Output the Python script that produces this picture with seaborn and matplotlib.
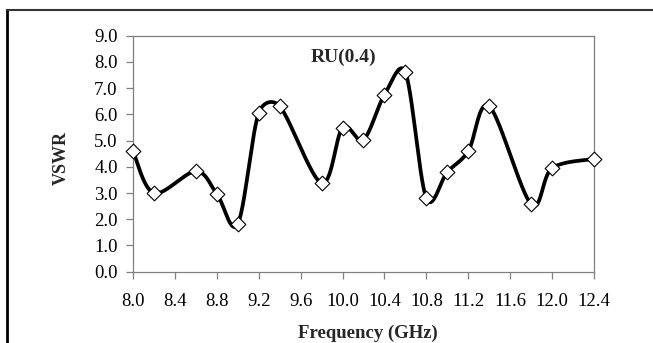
import numpy as np
import pandas as pd
import seaborn as sns
import matplotlib
matplotlib.use("Agg")
import matplotlib.pyplot as plt
from matplotlib.lines import Line2D

# Measured VSWR of the RU(0.4) element
freq_ghz = [8.0, 8.2, 8.6, 8.8, 9.0, 9.2, 9.4, 9.8, 10.0, 10.2, 10.4,
            10.6, 10.8, 11.0, 11.2, 11.4, 11.8, 12.0, 12.4]
vswr = [4.6, 3.0, 3.83, 2.97, 1.82, 6.06, 6.31, 3.38, 5.49, 5.04, 6.75,
        7.6, 2.8, 3.8, 4.6, 6.31, 2.58, 3.95, 4.3]
x_ticks = [8.0, 8.4, 8.8, 9.2, 9.6, 10.0, 10.4, 10.8, 11.2, 11.6, 12.0, 12.4]
y_ticks = [0, 1, 2, 3, 4, 5, 6, 7, 8, 9]
series_label = "RU(0.4)"

sns.set_theme(style="white")
plt.rcParams["font.family"] = ["Liberation Serif", "DejaVu Serif"]

W, H = 653, 343
fig = plt.figure(figsize=(W / 100, H / 100), dpi=100)
ax = fig.add_axes([133 / W, 1 - 271.7 / H, (594 - 133) / W, (271.7 - 35.7) / H])
ax.set_xlim(8.0, 12.4)
ax.set_ylim(0, 9)


def smooth_curve(xs, ys, ax, n=40, f=1 / 6):
    """Bezier smoothing in display space with control arms capped at half a segment."""
    pts = ax.transData.transform(np.column_stack([xs, ys]))
    out = []
    m = len(pts)
    for i in range(m - 1):
        p0 = pts[max(i - 1, 0)]
        p1 = pts[i]
        p2 = pts[i + 1]
        p3 = pts[min(i + 2, m - 1)]
        half = np.hypot(*(p2 - p1)) / 2
        a = f * (p2 - p0)
        b = f * (p3 - p1)
        la, lb = np.hypot(*a), np.hypot(*b)
        if la > half:
            a *= half / la
        if lb > half:
            b *= half / lb
        c1 = p1 + a
        c2 = p2 - b
        t = np.linspace(0, 1, n, endpoint=(i == m - 2))[:, None]
        seg = ((1 - t) ** 3) * p1 + 3 * ((1 - t) ** 2) * t * c1 \
            + 3 * (1 - t) * t ** 2 * c2 + t ** 3 * p2
        out.append(seg)
    dense = np.vstack(out)
    return ax.transData.inverted().transform(dense)


curve = smooth_curve(freq_ghz, vswr, ax)
curve_df = pd.DataFrame({"f": curve[:, 0], "v": curve[:, 1]})
pts_df = pd.DataFrame({"f": freq_ghz, "v": vswr})

sns.lineplot(data=curve_df, x="f", y="v", sort=False, estimator=None,
             color="black", linewidth=2.7, ax=ax, zorder=2)
sns.scatterplot(data=pts_df, x="f", y="v", marker="D", s=56,
                facecolor="white", edgecolor="black", linewidth=0.8,
                ax=ax, zorder=3, clip_on=False)

ax.set_xticks(x_ticks)
ax.set_xticklabels([f"{v:.1f}" for v in x_ticks])
ax.set_yticks(y_ticks)
ax.set_yticklabels([f"{v:.1f}" for v in y_ticks])
ax.tick_params(axis="both", which="major", direction="out", length=5,
               width=0.9, color="#7f7f7f", labelsize=13.5, labelcolor="black")
ax.tick_params(axis="x", pad=10)
ax.tick_params(axis="y", pad=6)
ax.tick_params(axis="both", bottom=True, left=True)

for sp in ax.spines.values():
    sp.set_visible(True)
    sp.set_color("#7f7f7f")
    sp.set_linewidth(0.9)

ax.set_xlabel("Frequency (GHz)", fontsize=13.5, fontweight="bold", va="baseline")
ax.xaxis.set_label_coords(0.5 + 4 / 461, -(338 - 271.7) / 236)
ax.set_ylabel("VSWR", fontsize=13, fontweight="bold", va="center")
ax.yaxis.set_label_coords(-(133 - 61) / 461, 0.5 - 4.5 / 236)

ax.text(10.01, 8.16, series_label, fontsize=14, fontweight="bold",
        ha="center", va="center")

# Outer frame around the chart
fig.add_artist(Line2D([7 / W, 7 / W], [0, 1 - 9.5 / H], transform=fig.transFigure,
                      color="black", linewidth=2.0, solid_capstyle="projecting"))
fig.add_artist(Line2D([7 / W, 1], [1 - 10 / H, 1 - 10 / H], transform=fig.transFigure,
                      color="#333333", linewidth=1.5, solid_capstyle="projecting"))

fig.savefig("out.png", dpi=100, facecolor="white")
